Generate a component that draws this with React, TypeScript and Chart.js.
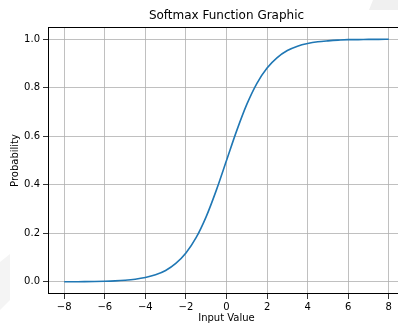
import React, { useEffect, useRef } from "react";
import { Chart, registerables } from "chart.js";

Chart.register(...registerables);

const xValues = [-8, -7.5, -7, -6.5, -6, -5.5, -5, -4.5, -4, -3.5, -3, -2.5, -2, -1.5, -1, -0.5, 0, 0.5, 1, 1.5, 2, 2.5, 3, 3.5, 4, 4.5, 5, 5.5, 6, 6.5, 7, 7.5, 8];
const probValues = [0.0003, 0.0006, 0.0009, 0.0015, 0.0025, 0.0041, 0.0067, 0.011, 0.018, 0.029, 0.047, 0.076, 0.119, 0.182, 0.269, 0.378, 0.5, 0.622, 0.731, 0.818, 0.881, 0.924, 0.953, 0.971, 0.982, 0.989, 0.993, 0.996, 0.998, 0.998, 0.999, 0.999, 0.9997];
const xTicks = [-8, -6, -4, -2, 0, 2, 4, 6, 8];
const yTicks = [0, 0.2, 0.4, 0.6, 0.8, 1.0];
const titleText = "Softmax Function Graphic";
const xLabel = "Input Value";
const yLabel = "Probability";

const FONT = "'DejaVu Sans', sans-serif";

const fmtX = (v: number) => (v < 0 ? "\u2212" + Math.abs(v) : String(v));

export default function App() {
  const ref = useRef<HTMLCanvasElement | null>(null);
  useEffect(() => {
    document.body.style.margin = "0";
    document.body.style.overflow = "hidden";
    const canvas = ref.current!;
    const decor = {
      id: "decor",
      beforeDraw(chart: any) {
        const ctx = chart.ctx;
        ctx.save();
        ctx.fillStyle = "#f0f0f0";
        ctx.beginPath();
        ctx.moveTo(369, 10);
        ctx.lineTo(373, 0);
        ctx.lineTo(398, 0);
        ctx.lineTo(398, 10);
        ctx.closePath();
        ctx.fill();
        ctx.fillStyle = "#f4f4f4";
        ctx.beginPath();
        ctx.moveTo(0, 262);
        ctx.lineTo(10, 254);
        ctx.lineTo(10, 300);
        ctx.lineTo(0, 310);
        ctx.closePath();
        ctx.fill();
        ctx.restore();
      },
      afterDraw(chart: any) {
        const { ctx, chartArea: a } = chart;
        ctx.save();
        ctx.strokeStyle = "#000";
        ctx.lineWidth = 1;
        ctx.strokeRect(a.left + 0.5, a.top + 0.5, a.right - a.left - 1, a.bottom - a.top - 1);
        ctx.fillStyle = "#000";
        ctx.textAlign = "center";
        ctx.textBaseline = "middle";
        ctx.font = `12px ${FONT}`;
        ctx.fillText(titleText, (a.left + a.right) / 2, 16);
        ctx.font = `10px ${FONT}`;
        ctx.fillText(xLabel, (a.left + a.right) / 2, 318);
        ctx.translate(15, (a.top + a.bottom) / 2);
        ctx.rotate(-Math.PI / 2);
        ctx.fillText(yLabel, 0, 0);
        ctx.restore();
      },
    };
    const chart = new Chart(canvas, {
      type: "line",
      data: {
        datasets: [
          {
            data: xValues.map((x, i) => ({ x, y: probValues[i] })),
            borderColor: "#1f77b4",
            borderWidth: 1.6,
            pointRadius: 0,
            cubicInterpolationMode: "monotone",
            fill: false,
          },
        ],
      },
      options: {
        animation: false,
        responsive: false,
        maintainAspectRatio: false,
        layout: { padding: { top: 27, right: 0, bottom: 0, left: 0 } },
        plugins: { legend: { display: false }, title: { display: false }, tooltip: { enabled: false } },
        scales: {
          x: {
            type: "linear",
            min: -8.8,
            max: 8.8,
            afterBuildTicks: (s: any) => {
              s.ticks = xTicks.map((v) => ({ value: v }));
            },
            afterFit: (s: any) => {
              s.height = 30;
            },
            grid: { color: "#b0b0b0", lineWidth: 0.8, tickColor: "#000", tickLength: 5, drawTicks: true },
            border: { display: false },
            ticks: {
              autoSkip: false,
              maxRotation: 0,
              padding: 2,
              color: "#000",
              font: { family: FONT, size: 10 },
              callback: (v: any) => fmtX(Number(v)),
            },
          },
          y: {
            type: "linear",
            min: -0.05,
            max: 1.05,
            afterBuildTicks: (s: any) => {
              s.ticks = yTicks.map((v) => ({ value: v }));
            },
            afterFit: (s: any) => {
              s.width = 48;
            },
            grid: { color: "#b0b0b0", lineWidth: 0.8, tickColor: "#000", tickLength: 5, drawTicks: true },
            border: { display: false },
            ticks: {
              autoSkip: false,
              padding: 3,
              color: "#000",
              font: { family: FONT, size: 10 },
              callback: (v: any) => Number(v).toFixed(1),
            },
          },
        },
      },
      plugins: [decor],
    } as any);
    return () => chart.destroy();
  }, []);
  return (
    <div style={{ width: 398, height: 324, overflow: "hidden", position: "relative", background: "#fff" }}>
      <canvas ref={ref} width={405} height={324} style={{ position: "absolute", left: 0, top: 0, width: 405, height: 324 }} />
    </div>
  );
}
